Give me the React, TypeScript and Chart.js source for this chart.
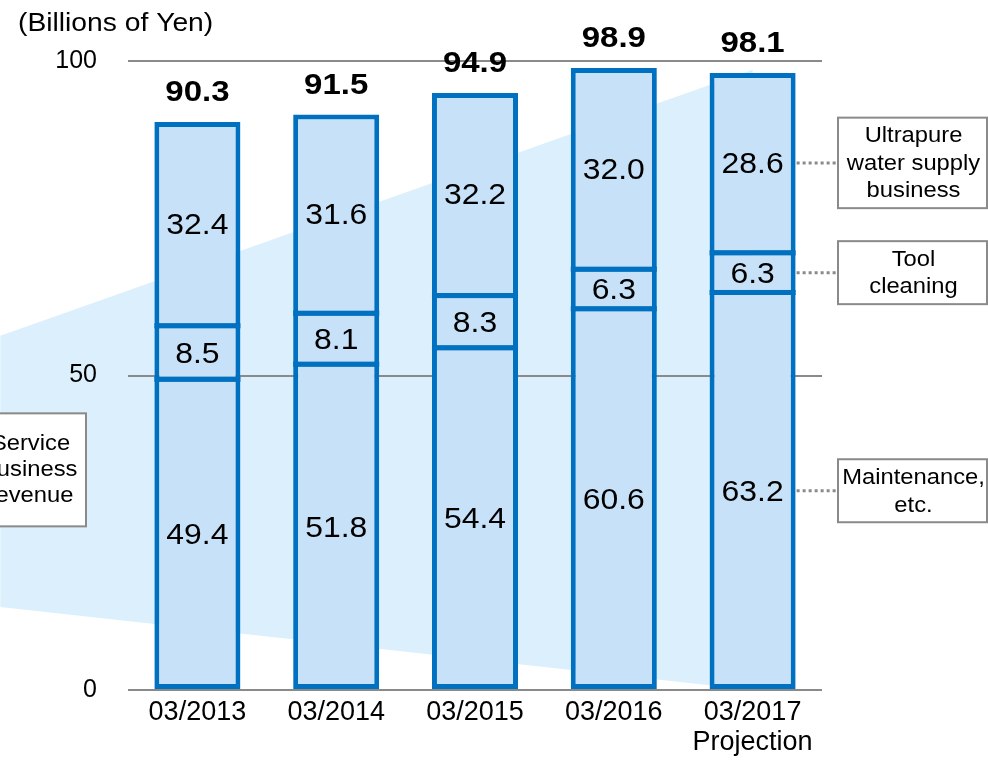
import React, { useEffect, useRef } from "react";
import { Chart, registerables } from "chart.js";

Chart.register(...registerables);

const categories: (string | string[])[] = ["03/2013", "03/2014", "03/2015", "03/2016", ["03/2017", "Projection"]];
const maintenance = [49.4, 51.8, 54.4, 60.6, 63.2];
const toolCleaning = [8.5, 8.1, 8.3, 6.3, 6.3];
const ultrapure = [32.4, 31.6, 32.2, 32.0, 28.6];
const totals = [90.3, 91.5, 94.9, 98.9, 98.1];
const yTicks = [0, 50, 100];

// decorative band behind the bars (x in category units, y in data units)
const bandX = [-1.42, 4];
const bandTop = [56.3, 98.6];
const bandBottom = [13.2, 0];

const seriesNames = ["Maintenance, etc.", "Tool cleaning", "Ultrapure water supply business"];
const rightBoxLines = [["Maintenance,", "etc."], ["Tool", "cleaning"], ["Ultrapure", "water supply", "business"]];
const leftBoxLines = ["Service", "business", "revenue"];
const leftBoxValue = 35;

const FONT = "'Liberation Sans', Arial, sans-serif";
const BORDER = "#0070C0";
const FILL = "#C6E1F8";
const BAND = "#DCEFFC";
const GRID = "#8A8A8A";

function sText(ctx: CanvasRenderingContext2D, t: string, x: number, y: number, sx: number) {
  ctx.save();
  ctx.translate(x, y);
  ctx.scale(sx, 1);
  ctx.fillText(t, 0, 0);
  ctx.restore();
}

const decor = {
  id: "decor",
  beforeDraw(chart: any) {
    const { ctx } = chart;
    const xs = chart.scales.x;
    const ys = chart.scales.y;
    ctx.save();
    ctx.fillStyle = BAND;
    ctx.beginPath();
    ctx.moveTo(xs.getPixelForValue(bandX[0]), ys.getPixelForValue(bandTop[0]));
    ctx.lineTo(xs.getPixelForValue(bandX[1]), ys.getPixelForValue(bandTop[1]));
    ctx.lineTo(xs.getPixelForValue(bandX[1]), ys.getPixelForValue(bandBottom[1]));
    ctx.lineTo(xs.getPixelForValue(bandX[0]), ys.getPixelForValue(bandBottom[0]));
    ctx.closePath();
    ctx.fill();
    ctx.restore();
  },
  afterDatasetsDraw(chart: any) {
    const { ctx } = chart;
    ctx.save();
    ctx.fillStyle = BORDER;
    for (let d = 1; d < 3; d++) {
      chart.getDatasetMeta(d).data.forEach((bar: any) => {
        ctx.fillRect(bar.x - bar.width / 2, bar.base - 2.5, bar.width, 5);
      });
    }
    ctx.restore();
  },
  afterDraw(chart: any) {
    const { ctx, chartArea } = chart;
    const ys = chart.scales.y;
    ctx.save();
    ctx.fillStyle = "#000";
    ctx.textBaseline = "middle";

    // title
    ctx.font = `25px ${FONT}`;
    ctx.textAlign = "left";
    sText(ctx, "(Billions of Yen)", 18, 24, 1.13);

    // segment labels
    ctx.textAlign = "center";
    ctx.font = `29px ${FONT}`;
    for (let d = 0; d < 3; d++) {
      const meta = chart.getDatasetMeta(d);
      const vals = chart.data.datasets[d].data as number[];
      meta.data.forEach((bar: any, i: number) => {
        const cy = (bar.y + bar.base) / 2;
        sText(ctx, vals[i].toFixed(1), bar.x, cy + 2, 1.1);
      });
    }

    // totals
    ctx.font = `bold 30px ${FONT}`;
    const topMeta = chart.getDatasetMeta(2);
    topMeta.data.forEach((bar: any, i: number) => {
      sText(ctx, totals[i].toFixed(1), bar.x, bar.y - 29, 1.1);
    });

    // right annotation boxes with dotted connectors
    const last = 4;
    const boxL = chartArea.right + 16;
    const boxR = chart.width - 1;
    const lineH = 27.5;
    ctx.font = `22px ${FONT}`;
    for (let d = 0; d < 3; d++) {
      const bar: any = chart.getDatasetMeta(d).data[last];
      const cy = (bar.y + bar.base) / 2;
      const barRight = bar.x + bar.width / 2;
      ctx.save();
      ctx.strokeStyle = GRID;
      ctx.lineWidth = 3;
      ctx.setLineDash([3, 3]);
      ctx.beginPath();
      ctx.moveTo(barRight + 1, cy);
      ctx.lineTo(boxL, cy);
      ctx.stroke();
      ctx.restore();
      const lines = rightBoxLines[d];
      const h = lines.length * lineH + 8;
      ctx.fillStyle = "#fff";
      ctx.fillRect(boxL, cy - h / 2, boxR - boxL, h);
      ctx.strokeStyle = GRID;
      ctx.lineWidth = 2;
      ctx.strokeRect(boxL, cy - h / 2, boxR - boxL, h);
      ctx.fillStyle = "#000";
      const cx = (boxL + boxR) / 2 + 1;
      lines.forEach((t, k) => {
        sText(ctx, t, cx, cy + (k - (lines.length - 1) / 2) * lineH + 1, 1.08);
      });
    }

    // left box
    const ly = ys.getPixelForValue(leftBoxValue);
    const lh = leftBoxLines.length * 26 + 35;
    ctx.fillStyle = "#fff";
    ctx.fillRect(-25, ly - lh / 2, 111, lh);
    ctx.strokeStyle = GRID;
    ctx.lineWidth = 2;
    ctx.strokeRect(-25, ly - lh / 2, 111, lh);
    ctx.fillStyle = "#000";
    leftBoxLines.forEach((t, k) => {
      sText(ctx, t, 30.5, ly + (k - 1) * 26, 1.08);
    });
    ctx.restore();
  },
};

function segBorder(pos: number) {
  // pos: 0 bottom, 1 middle, 2 top
  return {
    left: 5,
    right: 5,
    bottom: pos === 0 ? 5 : 2.5,
    top: pos === 2 ? 5 : 2.5,
  };
}

export default function App() {
  const ref = useRef<HTMLCanvasElement>(null);
  useEffect(() => {
    if (!ref.current) return;
    const mk = (label: string, data: number[], pos: number) => ({
      label,
      data,
      backgroundColor: FILL,
      borderColor: BORDER,
      borderWidth: segBorder(pos),
      borderSkipped: false as const,
      inflateAmount: 0,
      barPercentage: 0.62,
      categoryPercentage: 1,
    });
    const chart = new Chart(ref.current, {
      type: "bar",
      data: {
        labels: categories,
        datasets: [mk(seriesNames[0], maintenance, 0), mk(seriesNames[1], toolCleaning, 1), mk(seriesNames[2], ultrapure, 2)],
      },
      options: {
        animation: false,
        responsive: false,
        layout: { padding: { left: 0, top: 61, right: 166, bottom: 0 } },
        plugins: { legend: { display: false }, tooltip: { enabled: false } },
        scales: {
          x: {
            stacked: true,
            grid: { display: false, drawTicks: false },
            border: { display: false },
            ticks: {
              color: "#000",
              padding: 8,
              maxRotation: 0,
              autoSkip: false,
              font: { family: FONT, size: 27, lineHeight: 1.1 },
            },
            afterFit: (s: any) => {
              s.height = 71;
            },
          },
          y: {
            stacked: true,
            min: 0,
            max: 100,
            afterBuildTicks: (s: any) => {
              s.ticks = yTicks.map((v) => ({ value: v }));
            },
            grid: { color: GRID, lineWidth: 2, drawTicks: false },
            border: { display: false },
            ticks: {
              color: "#000",
              padding: 31,
              font: { family: FONT, size: 25 },
            },
            afterFit: (s: any) => {
              s.width = 128;
            },
          },
        },
      },
      plugins: [decor],
    });
    return () => chart.destroy();
  }, []);
  return (
    <div style={{ position: "fixed", left: 0, top: 0, width: 988, height: 761, background: "#fff" }}>
      <canvas ref={ref} width={988} height={761} style={{ width: 988, height: 761, display: "block" }} />
    </div>
  );
}
